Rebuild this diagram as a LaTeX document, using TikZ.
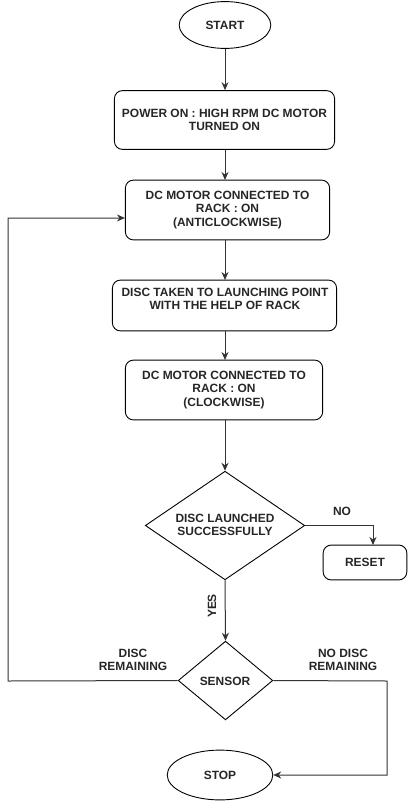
\documentclass[tikz,border=0pt]{standalone}
\usepackage{fontspec}
\setmainfont{Liberation Sans}
\usetikzlibrary{shapes.geometric,arrows.meta}
\begin{document}
\begin{tikzpicture}[x=1bp,y=-1bp,
  every node/.style={font=\fontsize{12}{13.8}\selectfont\bfseries, text=black!85, align=center, inner sep=0pt},
  procbox/.style={draw=black, line width=0.9bp, rounded corners=8bp},
  term/.style={draw=black, line width=0.9bp, ellipse},
  decis/.style={draw=black, line width=0.9bp, diamond},
  arr/.style={draw=black!80, line width=1bp, -{Stealth[length=8bp,width=7bp]}},
  lbl/.style={font=\fontsize{12}{13.8}\selectfont\bfseries}
]
\useasboundingbox (0,0) rectangle (408,801);
\node[term, minimum width=92, minimum height=47] (start) at (225,25) {START};
\node[procbox, minimum width=221, minimum height=59] (b1) at (224.5,120) {POWER ON : HIGH RPM DC MOTOR\\TURNED ON};
\node[procbox, minimum width=205, minimum height=60] (b2) at (227.5,210) {DC MOTOR CONNECTED TO\\RACK : ON\\(ANTICLOCKWISE)};
\node[procbox, minimum width=225, minimum height=51] (b3) at (224.5,305.5) {};
\node (b3t) at (225,299) {DISC TAKEN TO LAUNCHING POINT\\WITH THE HELP OF RACK};
\node[procbox, minimum width=198, minimum height=60] (b4) at (224,390) {DC MOTOR CONNECTED TO\\RACK : ON\\(CLOCKWISE)};
\node[decis, minimum width=160, minimum height=109] (d1) at (225,525.5) {};
\node (d1t) at (225,525) {DISC LAUNCHED\\SUCCESSFULLY};
\node[procbox, minimum width=84, minimum height=35] (reset) at (365,562.5) {RESET};
\node[decis, minimum width=95, minimum height=79] (sensor) at (225.5,680.5) {};
\node (sensort) at (225,681) {SENSOR};
\node[term, minimum width=106, minimum height=50] (stop) at (220,775) {STOP};

\coordinate (rn) at (373,545);
\coordinate (l1) at (8,681);
\coordinate (l2) at (8,218);
\coordinate (r1) at (387,681);

\draw[arr] (start.south) -- (start.south |- b1.north);
\draw[arr] (b1.south -| 225,0) -- (225,180);
\draw[arr] (225,240) -- (225,280);
\draw[arr] (225,331) -- (225,360);
\draw[arr] (225,420) -- (d1.north);
\draw[arr] (d1.east) -| (rn);
\draw[arr] (d1.south) -- (sensor.north);
\draw[arr] (sensor.west) -- (l1) -- (l2) -- (l2 -| b2.west);
\draw[arr] (sensor.east) -- (r1) |- (stop.east);

\node[lbl] (no) at (342,511) {NO};
\node[lbl, rotate=90] (yes) at (212,606) {YES};
\node[lbl] (dr) at (133,660) {DISC\\REMAINING};
\node[lbl] (ndr) at (343,660) {NO DISC\\REMAINING};
\end{tikzpicture}
\end{document}
